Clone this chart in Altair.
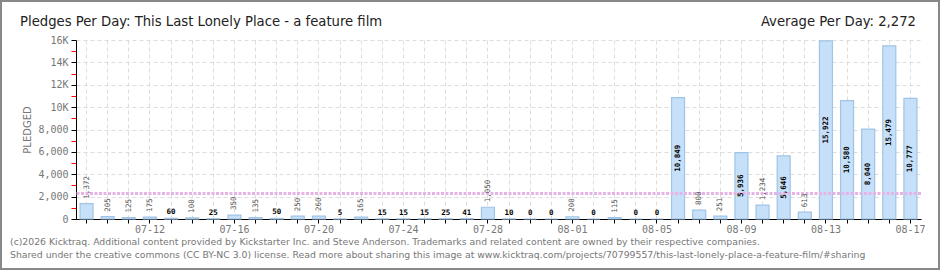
import altair as alt
import pandas as pd

# ---- data ----
dates = [d.strftime("%m-%d") for d in pd.date_range("2026-07-09", periods=40, freq="D")]
pledged = [1372, 205, 125, 175, 60, 100, 25, 350, 135, 50,
           250, 260, 5, 165, 15, 15, 15, 25, 41, 1050,
           10, 0, 0, 200, 0, 115, 0, 0, 10849, 800,
           251, 5936, 1234, 5646, 613, 15922, 10580, 8040, 15479, 10777]
label_dates = dates[3::4]
y_ticks = list(range(0, 16001, 1000))

title_text = "Pledges Per Day: This Last Lonely Place - a feature film"
footer_lines = [
    "(c)2026 Kicktraq. Additional content provided by Kickstarter Inc. and Steve Anderson. Trademarks and related content are owned by their respective companies.",
    "Shared under the creative commons (CC BY-NC 3.0) license. Read more about sharing this image at www.kicktraq.com/projects/70799557/this-last-lonely-place-a-feature-film/#sharing",
]

df = pd.DataFrame({"date": dates, "pledged": pledged})
df["label"] = df["pledged"].map(lambda v: f"{v:,}")
df["kind"] = [
    "in" if v >= 4000 else ("rot" if len(l) >= 3 else "hor")
    for v, l in zip(df["pledged"], df["label"])
]
df["mid"] = df["pledged"] / 2
avg = sum(pledged) / len(pledged)

W, H = 845, 179
AXFONT = "DejaVu Sans Mono"
label_list = "[" + ",".join(f"'{d}'" for d in label_dates) + "]"
odd = "datum.value % 2000 != 0"

x_axis = alt.Axis(
    title=None, labelAngle=0, grid=True, gridDash=[4, 3], gridColor="#dddddd",
    domainColor="#000000", tickColor="#000000", tickSize=4,
    labelExpr=f"indexof({label_list}, datum.value) >= 0 ? datum.label : ''",
    labelFont=AXFONT, labelFontSize=10, labelColor="#777777", labelPadding=1,
)
y_axis = alt.Axis(
    title="PLEDGED", values=y_ticks,
    labelExpr=f"{odd} ? '' : (datum.value >= 10000 ? (datum.value/1000) + 'K' : format(datum.value, ','))",
    labelFont=AXFONT, labelFontSize=10, labelColor="#777777", labelPadding=3,
    tickSize=5,
    tickColor={"condition": {"test": odd, "value": "#ff0000"}, "value": "#000000"},
    gridOpacity={"condition": {"test": odd, "value": 0}, "value": 1},
    gridColor={"condition": {"test": odd, "value": "transparent"}, "value": "#dddddd"},
    grid=True, gridDash=[4, 3], domainColor="#000000",
    titleFont="DejaVu Sans", titleFontSize=10, titleFontWeight="normal", titleColor="#777777",
    titlePadding=5,
)
x_scale = alt.Scale(paddingInner=0, paddingOuter=0)
y_scale = alt.Scale(domain=[0, 16000], nice=False)


def X():
    return alt.X("date:N", sort=dates, scale=x_scale, axis=x_axis, title=None)


def Y(field):
    return alt.Y(field, scale=y_scale, axis=y_axis, title="PLEDGED")


bars = alt.Chart(df).mark_bar(
    size=13, fill="#c6e0f9", stroke="#a0c4e6", strokeWidth=1.2
).encode(x=X(), y=Y("pledged:Q"))

lab_in = alt.Chart(df).transform_filter("datum.kind == 'in'").mark_text(
    angle=270, align="center", baseline="middle", font=AXFONT, fontSize=7.5,
    fontWeight="bold", color="#000000"
).encode(x=X(), y=Y("mid:Q"), text="label:N")

lab_rot = alt.Chart(df).transform_filter("datum.kind == 'rot'").mark_text(
    angle=270, align="left", baseline="middle", dx=5, font=AXFONT, fontSize=7.5,
    color="#555555"
).encode(x=X(), y=Y("pledged:Q"), text="label:N")

lab_hor = alt.Chart(df).transform_filter("datum.kind == 'hor'").mark_text(
    align="center", baseline="bottom", dy=-2, font=AXFONT, fontSize=7.5,
    fontWeight="bold", color="#000000"
).encode(x=X(), y=Y("pledged:Q"), text="label:N")

avg_rule = alt.Chart(df).mark_rule(
    color="#e6b3e6", strokeWidth=3, strokeDash=[3, 1.5]
).encode(y=Y("mean(pledged):Q"))

TFONT = "Liberation Sans Narrow, DejaVu Sans Condensed, Liberation Sans, sans-serif"
title = alt.Chart(pd.DataFrame({"t": [title_text]})).mark_text(
    align="left", baseline="alphabetic", font=TFONT, fontSize=14.7, color="#222222"
).encode(x=alt.value(-56), y=alt.value(-14), text="t:N")

avg_text = alt.Chart(pd.DataFrame({"t": [f"Average Per Day:  {avg:,.0f}"]})).mark_text(
    align="right", baseline="alphabetic", font=TFONT, fontSize=14.7, color="#222222"
).encode(x=alt.value(W - 5), y=alt.value(-14), text="t:N")

footer = alt.Chart(pd.DataFrame({"t": ["\n".join(footer_lines)]})).mark_text(
    align="left", baseline="middle", font="DejaVu Sans", fontSize=9.3, color="#777777",
    lineBreak="\n", lineHeight=13
).encode(x=alt.value(-66), y=alt.value(H + 23), text="t:N")

frame = alt.Chart(pd.DataFrame({"a": [0]})).mark_rect(
    fillOpacity=0, stroke="#888888", strokeWidth=2
).encode(x=alt.value(-75), x2=alt.value(W + 18), y=alt.value(-39), y2=alt.value(H + 50))

chart = alt.layer(
    bars, avg_rule, lab_in, lab_rot, lab_hor, title, avg_text, footer, frame
).properties(
    width=W, height=H,
    padding={"left": 76, "top": 40, "right": 19, "bottom": 51},
    autosize=alt.AutoSizeParams(type="none"),
    background="#ffffff",
).configure_view(stroke=None)

chart.save("out.html", embed_options={"renderer": "svg", "actions": False})
